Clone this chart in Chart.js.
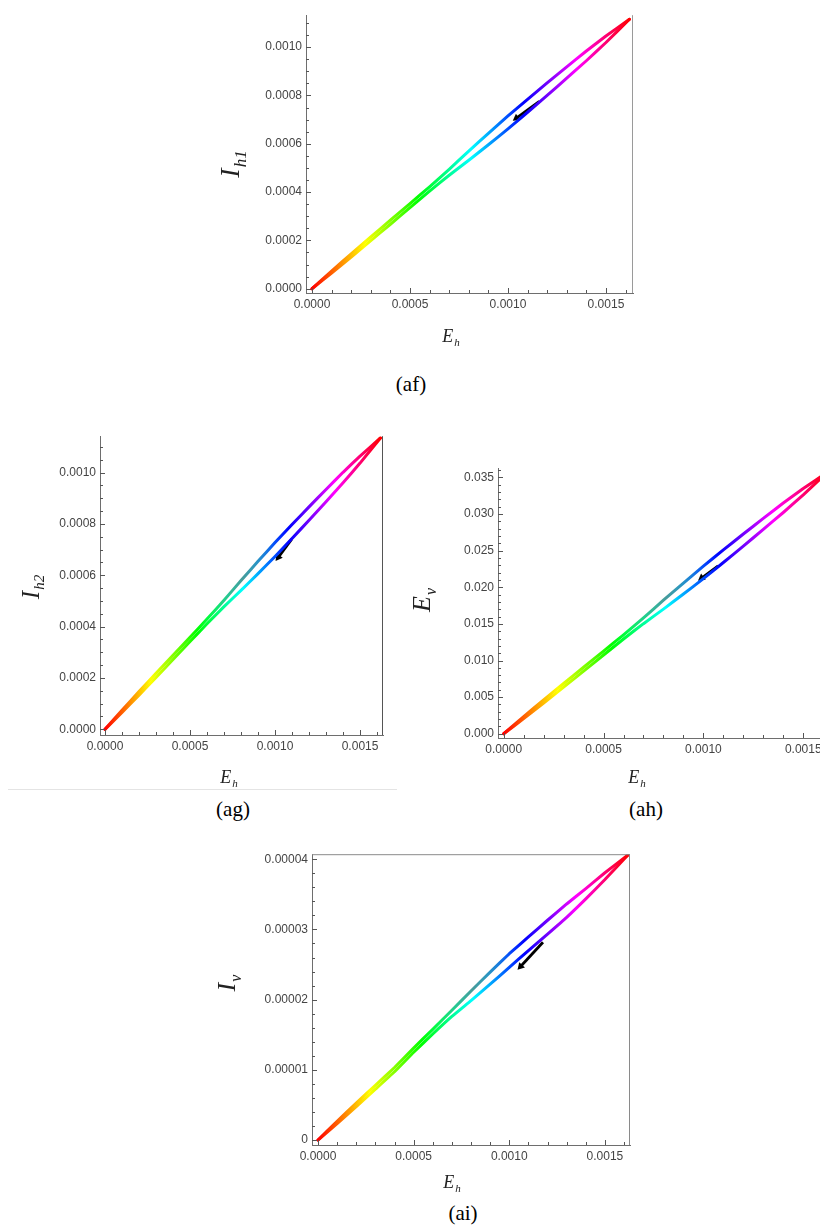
<!DOCTYPE html>
<html><head><meta charset="utf-8">
<script src="https://cdn.jsdelivr.net/npm/chart.js@4.4.1/dist/chart.umd.min.js"></script>
<style>
html,body{margin:0;padding:0;background:#fff;overflow:hidden;width:820px;height:1226px;position:relative;}
canvas.panel{position:absolute;}
.cap{position:absolute;font-family:"Liberation Serif","Times New Roman",serif;font-size:21px;line-height:1;color:#000;transform:translateX(-50%);white-space:nowrap;}
.rule{position:absolute;left:8px;top:789px;width:389px;height:1px;background:#e4e4e4;}
</style></head><body>
<div class="cap" style="left:411px;top:374px">(af)</div>
<div class="cap" style="left:233px;top:799px">(ag)</div>
<div class="cap" style="left:646px;top:799px">(ah)</div>
<div class="cap" style="left:463px;top:1203px">(ai)</div>
<div class="rule"></div>
<canvas id="c_af" class="panel"></canvas>
<canvas id="c_ag" class="panel"></canvas>
<canvas id="c_ah" class="panel"></canvas>
<canvas id="c_ai" class="panel"></canvas>
<script>
// ---------- data ----------
const ehPath = [0, 0.0001, 0.0002, 0.0003, 0.0004, 0.0005, 0.0006, 0.0007, 0.0008, 0.0009, 0.0010, 0.0011, 0.0012, 0.0013, 0.0014, 0.0015, 0.00162];

const ih1Rise = [0, 0.0000733, 0.0001443, 0.0002143, 0.0002837, 0.0003525, 0.0004219, 0.0004941, 0.0005696, 0.0006429, 0.0007150, 0.0007839, 0.0008516, 0.0009182, 0.0009837, 0.0010458, 0.001115];
const ih1Fall = [0, 0.0000644, 0.0001310, 0.0001987, 0.0002669, 0.0003358, 0.0004040, 0.0004695, 0.0005317, 0.0005960, 0.0006615, 0.0007303, 0.0008003, 0.0008713, 0.0009435, 0.0010190, 0.001115];

const ih2Rise = [0, 0.0000746, 0.0001469, 0.0002181, 0.0002888, 0.0003588, 0.0004295, 0.0005029, 0.0005798, 0.0006544, 0.0007279, 0.0007979, 0.0008668, 0.0009346, 0.0010013, 0.0010646, 0.001135];
const ih2Fall = [0, 0.0000655, 0.0001333, 0.0002022, 0.0002717, 0.0003418, 0.0004113, 0.0004779, 0.0005412, 0.0006067, 0.0006734, 0.0007434, 0.0008146, 0.0008870, 0.0009604, 0.0010373, 0.001135];

const evRise = [0, 0.002347, 0.004622, 0.006861, 0.009082, 0.011286, 0.013508, 0.01582, 0.01824, 0.02058, 0.02289, 0.02510, 0.02727, 0.02940, 0.03150, 0.03348, 0.0357];
const evFall = [0, 0.002061, 0.004193, 0.006361, 0.008547, 0.010751, 0.012937, 0.01503, 0.01702, 0.01908, 0.02118, 0.02338, 0.02562, 0.02790, 0.03021, 0.03263, 0.0357];

const ivRise = [0, 0.00000267, 0.00000526, 0.00000780, 0.00001033, 0.00001310, 0.00001577, 0.00001849, 0.00002124, 0.00002391, 0.00002654, 0.00002894, 0.00003131, 0.00003363, 0.00003582, 0.00003808, 0.0000406];
const ivFall = [0, 0.00000234, 0.00000477, 0.00000724, 0.00000972, 0.00001250, 0.00001510, 0.00001760, 0.00001986, 0.00002220, 0.00002459, 0.00002699, 0.00002934, 0.00003173, 0.00003436, 0.00003711, 0.0000406];

// direction arrows (start, end)
const afArrowEh = [0.00116, 0.001043];  const afArrowIh1 = [0.000775, 0.000706];
const agArrowEh = [0.001098, 0.001019]; const agArrowIh2 = [0.000741, 0.000670];
const ahArrowEh = [0.001074, 0.000991]; const ahArrowEv = [0.02293, 0.02126];
const aiArrowEh = [0.001176, 0.001059]; const aiArrowIv = [0.00002817, 0.00002472];

// tick values and labels
const ehTicks = [0, 0.0005, 0.0010, 0.0015];
const ehTickLabels = ["0.0000", "0.0005", "0.0010", "0.0015"];
const ihTicks = [0, 0.0002, 0.0004, 0.0006, 0.0008, 0.0010];
const ihTickLabels = ["0.0000", "0.0002", "0.0004", "0.0006", "0.0008", "0.0010"];
const evTicks = [0, 0.005, 0.010, 0.015, 0.020, 0.025, 0.030, 0.035];
const evTickLabels = ["0.000", "0.005", "0.010", "0.015", "0.020", "0.025", "0.030", "0.035"];
const ivTicks = [0, 0.00001, 0.00002, 0.00003, 0.00004];
const ivTickLabels = ["0", "0.00001", "0.00002", "0.00003", "0.00004"];

// ---------- layout / style ----------
const PL = 95, PT = 10, PR = 15, PB = 60;
const panels = [
  {id:'c_af', area:[306,14,633,293], xr:[-0.0000306,0.001638], yr:[-0.0000177,0.001132],
   rise:ih1Rise, fall:ih1Fall, ax:afArrowEh, ay:afArrowIh1,
   yT:ihTicks, yL:ihTickLabels, yMinor:0.00005, yTitle:['I','h1'], yPos:[232,164], ySize:28,
   xPos:[451,337], top:false, right:true, rightColor:'#9a9a9a', muted:false},
  {id:'c_ag', area:[100,435,383,735], xr:[-0.0000294,0.001635], yr:[-0.0000221,0.001142],
   rise:ih2Rise, fall:ih2Fall, ax:agArrowEh, ay:agArrowIh2,
   yT:ihTicks, yL:ihTickLabels, yMinor:0.00005, yTitle:['I','h2'], yPos:[32,587], ySize:25,
   xPos:[229,778], top:false, right:true, rightColor:'#555', muted:true},
  {id:'c_ah', area:[498,467,830,738], xr:[-0.0000286,0.001634], yr:[-0.000583,0.03626],
   rise:evRise, fall:evFall, ax:ahArrowEh, ay:ahArrowEv,
   yT:evTicks, yL:evTickLabels, yMinor:0.001, yTitle:['E','v'], yPos:[423,600], ySize:26,
   xPos:[637,778], top:false, right:false, rightColor:'#888', muted:true},
  {id:'c_ai', area:[312,853,630,1145], xr:[-0.0000313,0.001631], yr:[-0.00000071,0.00004072],
   rise:ivRise, fall:ivFall, ax:aiArrowEh, ay:aiArrowIv,
   yT:ivTicks, yL:ivTickLabels, yMinor:0.000002, yTitle:['I','v'], yPos:[228,983], ySize:26,
   xPos:[452,1183], top:true, right:true, rightColor:'#8a8a8a', muted:true}
];

function minorList(lo, hi, step){
  const out=[]; const n0=Math.ceil(lo/step-1e-9), n1=Math.floor(hi/step+1e-9);
  for(let k=n0;k<=n1;k++) out.push(+(k*step).toPrecision(10));
  return out;
}
function isMajor(v, majors, step){ return majors.some(m=>Math.abs(m-v) < step*0.01); }

function hueGradient(chart, muted){
  const {ctx, scales} = chart;
  const x0 = scales.x.getPixelForValue(ehPath[0]);
  const x1 = scales.x.getPixelForValue(ehPath[ehPath.length-1]);
  const g = ctx.createLinearGradient(x0,0,x1,0);
  for(let i=0;i<=36;i++){
    const t=i/36; let s=100, l=50;
    if(muted){ const b=Math.max(0,1-Math.abs(t-0.5)/0.12); s=100-62*b; l=50-6*b; }
    g.addColorStop(t, `hsl(${(360*t).toFixed(1)},${s}%,${l}%)`);
  }
  return g;
}

function drawTitle(ctx, main, sub, cx, cy, size, rot){
  ctx.save();
  ctx.translate(cx, cy);
  if(rot) ctx.rotate(-Math.PI/2);
  const mf = `italic ${size}px "Liberation Serif","Times New Roman",serif`;
  const ss = Math.round(size*0.6);
  const sf = `italic ${ss}px "Liberation Serif","Times New Roman",serif`;
  ctx.font = mf; const mw = ctx.measureText(main).width;
  ctx.font = sf; const sw = ctx.measureText(sub).width;
  const tot = mw + sw + 1;
  ctx.fillStyle = '#222'; ctx.textBaseline = 'middle'; ctx.textAlign = 'left';
  ctx.font = mf; ctx.fillText(main, -tot/2, 0);
  ctx.font = sf; ctx.fillText(sub, -tot/2 + mw + 1, size*0.33);
  ctx.restore();
}

const tickFont = {family:'"Liberation Sans", Arial, sans-serif', size:12};

panels.forEach(p=>{
  const [L,T,R,B] = p.area;
  const cl = L-PL, ct = T-PT;
  const W = (R-L)+PL+PR, H = (B-T)+PT+PB;
  const cv = document.getElementById(p.id);
  cv.width = W; cv.height = H;
  cv.style.left = cl+'px'; cv.style.top = ct+'px';
  cv.style.width = W+'px'; cv.style.height = H+'px';

  const xTickVals = minorList(p.xr[0], p.xr[1], 0.0001);
  const yTickVals = minorList(p.yr[0], p.yr[1], p.yMinor);

  const framePlugin = {
    id:'frame'+p.id,
    afterDraw(chart){
      const {ctx, chartArea:a, scales:{x,y}} = chart;
      ctx.save();
      ctx.lineWidth = 1;
      ctx.strokeStyle = p.rightColor;
      if(p.right){ ctx.beginPath(); ctx.moveTo(a.right-0.5,a.top); ctx.lineTo(a.right-0.5,a.bottom); ctx.stroke(); }
      if(p.top){ ctx.beginPath(); ctx.moveTo(a.left,a.top+0.5); ctx.lineTo(a.right,a.top+0.5); ctx.stroke(); }
      // inward ticks
      ctx.strokeStyle = '#555';
      x.ticks.forEach(t=>{
        const px = Math.round(x.getPixelForValue(t.value))+0.5;
        const len = isMajor(t.value, ehTicks, 0.0001) ? 5 : 3;
        ctx.beginPath(); ctx.moveTo(px, a.bottom); ctx.lineTo(px, a.bottom-len); ctx.stroke();
      });
      y.ticks.forEach(t=>{
        const py = Math.round(y.getPixelForValue(t.value))+0.5;
        const len = isMajor(t.value, p.yT, p.yMinor) ? 5 : 3;
        ctx.beginPath(); ctx.moveTo(a.left, py); ctx.lineTo(a.left+len, py); ctx.stroke();
      });
      ctx.restore();
      drawTitle(ctx, p.yTitle[0], p.yTitle[1], p.yPos[0]-cl, p.yPos[1]-ct, p.ySize, true);
      drawTitle(ctx, 'E', 'h', p.xPos[0]-cl, p.xPos[1]-ct, 18, false);
    }
  };

  const lineDs = (ys, muted) => ({
    data: ehPath.map((v,i)=>({x:v, y:ys[i]})),
    showLine:true, pointRadius:0, borderWidth:3, tension:0.1,
    borderJoinStyle:'round', borderCapStyle:'round',
    borderColor:(c)=>{ const ch=c.chart; if(!ch.chartArea) return '#f00'; return hueGradient(ch, muted); }
  });

  new Chart(cv, {
    type:'scatter',
    data:{datasets:[
      lineDs(p.fall, false),
      lineDs(p.rise, p.muted),
      { data: p.ax.map((v,i)=>({x:v, y:p.ay[i]})),
        showLine:true, borderColor:'#000', backgroundColor:'#000', borderWidth:2.8,
        pointStyle:'triangle', pointRadius:[0,4.5], pointBorderWidth:0,
        pointRotation:(c)=>{ const ch=c.chart; const xs=ch.scales.x, ys=ch.scales.y;
          const dx = xs.getPixelForValue(p.ax[1])-xs.getPixelForValue(p.ax[0]);
          const dy = ys.getPixelForValue(p.ay[1])-ys.getPixelForValue(p.ay[0]);
          return Math.atan2(dx,-dy)*180/Math.PI; } }
    ]},
    options:{
      responsive:false, animation:false, devicePixelRatio:1,
      layout:{padding:{left:0,top:PT,right:PR,bottom:0}, autoPadding:false},
      plugins:{legend:{display:false}, tooltip:{enabled:false}},
      scales:{
        x:{type:'linear', min:p.xr[0], max:p.xr[1],
           afterFit:(s)=>{s.height=PB;},
           afterBuildTicks:(s)=>{s.ticks = xTickVals.map(v=>({value:v}));},
           grid:{display:false, drawTicks:false},
           border:{display:true, color:'#6e6e6e', width:1},
           ticks:{autoSkip:false, maxRotation:0, minRotation:0, padding:4, color:'#444', font:tickFont,
             callback:(v)=>{ const i=ehTicks.findIndex(m=>Math.abs(m-v)<1e-6); return i>=0?ehTickLabels[i]:''; }}},
        y:{type:'linear', min:p.yr[0], max:p.yr[1],
           afterFit:(s)=>{s.width=PL;},
           afterBuildTicks:(s)=>{s.ticks = yTickVals.map(v=>({value:v}));},
           grid:{display:false, drawTicks:false},
           border:{display:true, color:'#6e6e6e', width:1},
           ticks:{autoSkip:false, padding:4, color:'#444', font:tickFont,
             callback:(v)=>{ const i=p.yT.findIndex(m=>Math.abs(m-v)<p.yMinor*0.01); return i>=0?p.yL[i]:''; }}}
      }
    },
    plugins:[framePlugin]
  });
});
</script>
</body></html>
